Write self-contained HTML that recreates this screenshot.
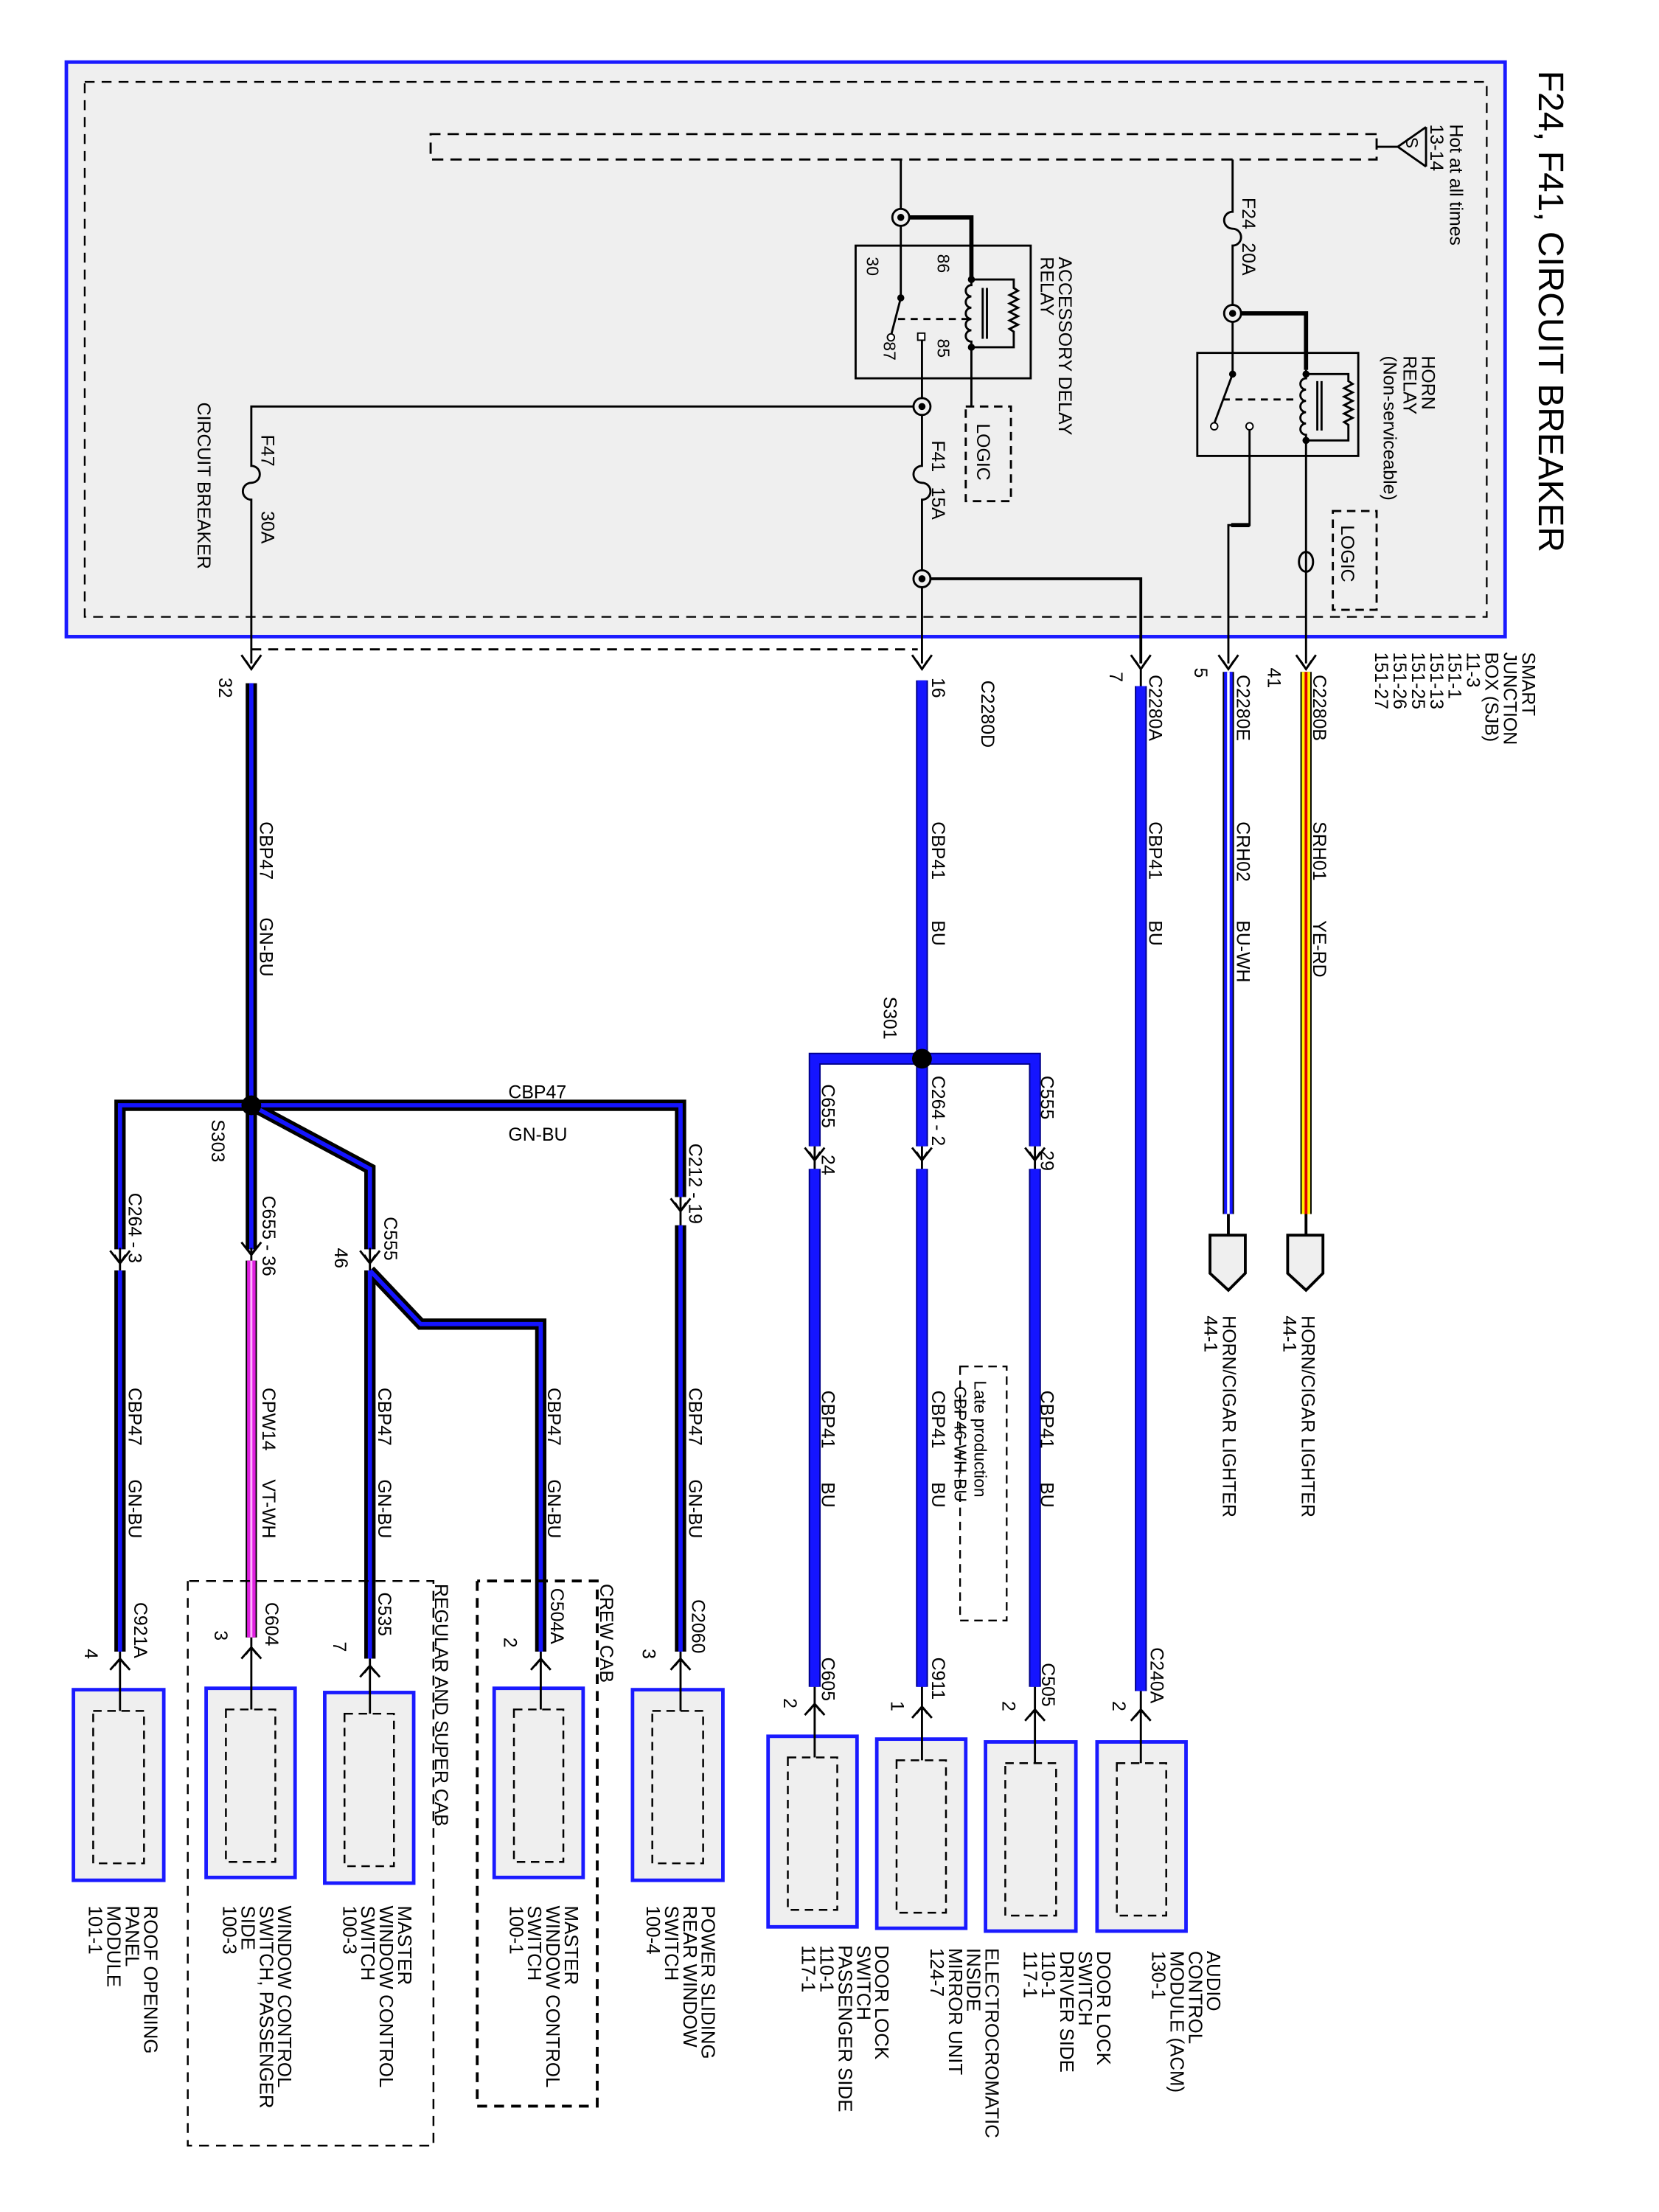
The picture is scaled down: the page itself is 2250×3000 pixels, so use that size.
<!DOCTYPE html>
<html><head><meta charset="utf-8"><style>
html,body{margin:0;padding:0;background:#fff}
svg{display:block}
text{font-family:"Liberation Sans",Arial,sans-serif;fill:#000}
</style></head><body>
<svg width="2250" height="3000" viewBox="0 0 1175 1567" preserveAspectRatio="none" xmlns="http://www.w3.org/2000/svg">
<rect x="0" y="0" width="1175" height="1567" fill="#fff"/>
<!-- top SJB box -->
<rect x="47" y="44" width="1019" height="407" fill="#efefef" stroke="#1a1aff" stroke-width="2.5"/>
<rect x="60" y="58" width="993" height="379" fill="none" stroke="#000" stroke-width="1.2" stroke-dasharray="7,5"/>
<!-- bus -->
<g fill="none" stroke="#000" stroke-width="1.5">
<path d="M975,95 H305 V113 H975 V95" stroke-dasharray="8,5"/>
<path d="M975,104 H990"/>
<path d="M990,104 L1010,90 M990,104 L1010,118 M1010,90 V118"/>
</g>
<text transform="translate(996,97) rotate(90)" font-size="12">S</text>
<text transform="translate(1027,88) rotate(90)" font-size="13">Hot at all times</text>
<text transform="translate(1013,88) rotate(90)" font-size="13">13-14</text>
<text transform="translate(1090,50) rotate(90)" font-size="25">F24, F41, CIRCUIT BREAKER</text>

<!-- F24 / horn relay -->
<g fill="none" stroke="#000" stroke-width="1.5">
<path d="M873,113 V150 a6,6 0 0 0 0,12 a6,6 0 0 1 0,12 V222"/>
<path d="M873,222 H925 V262" stroke-width="3"/>
<rect x="848" y="250" width="114" height="73"/>
<path d="M873,222 V265 L860,300"/>
<path d="M866,283 H920" stroke-dasharray="5,4"/>
<path d="M925,262 V268 a4,4 0 0 0 0,8 a4,4 0 0 0 0,8 a4,4 0 0 0 0,8 a4,4 0 0 0 0,8 a4,4 0 0 0 0,8 V312"/>
<path d="M933,270 V305 M936,270 V305"/>
<path d="M925,265 H955 V270 l3,2 l-6,3 l6,3 l-6,3 l6,3 l-6,3 l6,3 l-6,3 l6,3 l-6,3 l3,2 V312 H925"/>
<path d="M885,302 V372 H870 V470"/>
<path d="M872,372 H885" stroke-width="3"/>
<path d="M925,312 V470"/>
<ellipse cx="925" cy="398" rx="5" ry="7"/>
<rect x="944" y="362" width="31" height="70" stroke-dasharray="6,4"/>
</g>
<circle cx="873" cy="265" r="2.5"/>
<circle cx="860" cy="302" r="2.5" fill="#fff" stroke="#000"/>
<circle cx="885" cy="302" r="2.5" fill="#fff" stroke="#000"/>
<circle cx="925" cy="265" r="2.5"/><circle cx="925" cy="312" r="2.5"/>
<text transform="translate(880,140) rotate(90)" font-size="13">F24</text>
<text transform="translate(880,172) rotate(90)" font-size="13">20A</text>
<text transform="translate(1007,252) rotate(90)" font-size="13">HORN</text>
<text transform="translate(994,252) rotate(90)" font-size="13">RELAY</text>
<text transform="translate(980,252) rotate(90)" font-size="13">(Non-serviceable)</text>
<text transform="translate(950,372) rotate(90)" font-size="13">LOGIC</text>

<!-- accessory relay -->
<g fill="none" stroke="#000" stroke-width="1.5">
<path d="M638,113 V211 L631,238"/>
<path d="M638,154 H688 V196" stroke-width="3"/>
<rect x="606" y="174" width="124" height="94"/>
<path d="M636,226 H686" stroke-dasharray="5,4"/>
<path d="M688,196 V202 a4,4 0 0 0 0,8 a4,4 0 0 0 0,8 a4,4 0 0 0 0,8 a4,4 0 0 0 0,8 a4,4 0 0 0 0,8 V248"/>
<path d="M696,204 V240 M699,204 V240"/>
<path d="M688,198 H718 V204 l3,2 l-6,3 l6,3 l-6,3 l6,3 l-6,3 l6,3 l-6,3 l6,3 l-6,3 l3,2 V246 H688"/>
<path d="M688,248 V288"/>
<rect x="684" y="288" width="32" height="67" stroke-dasharray="6,4"/>
<path d="M653,241 V330 a6,6 0 0 0 0,12 a6,6 0 0 1 0,12 V470"/>
<path d="M653,288 H178 V330 a6,6 0 0 1 0,12 a6,6 0 0 0 0,12 V470"/>
<path d="M653,410 H808 V470" stroke-width="2"/>
<path d="M178,460 H650" stroke-dasharray="7,5"/>
</g>
<circle cx="638" cy="211" r="2.5"/>
<circle cx="631" cy="239" r="2.5" fill="#fff" stroke="#000"/>
<rect x="650" y="236" width="5" height="5" fill="#fff" stroke="#000"/>
<circle cx="688" cy="198" r="2.5"/><circle cx="688" cy="246" r="2.5"/>
<text transform="translate(664,180) rotate(90)" font-size="12">86</text>
<text transform="translate(664,240) rotate(90)" font-size="12">85</text>
<text transform="translate(614,182) rotate(90)" font-size="12">30</text>
<text transform="translate(626,242) rotate(90)" font-size="12">87</text>
<text transform="translate(750,182) rotate(90)" font-size="13">ACCESSORY DELAY</text>
<text transform="translate(737,182) rotate(90)" font-size="13">RELAY</text>
<text transform="translate(692,300) rotate(90)" font-size="13">LOGIC</text>
<text transform="translate(660,312) rotate(90)" font-size="13">F41</text>
<text transform="translate(660,345) rotate(90)" font-size="13">15A</text>
<text transform="translate(185,308) rotate(90)" font-size="13">F47</text>
<text transform="translate(185,362) rotate(90)" font-size="13">30A</text>
<text transform="translate(140,285) rotate(90)" font-size="13">CIRCUIT BREAKER</text>

<!-- junction circles -->
<g fill="#efefef" stroke="#000" stroke-width="1.5">
<circle cx="873" cy="222" r="6"/><circle cx="638" cy="154" r="6"/>
<circle cx="653" cy="288" r="6"/><circle cx="653" cy="410" r="6"/>
</g>
<g fill="#000"><circle cx="873" cy="222" r="2.5"/><circle cx="638" cy="154" r="2.5"/><circle cx="653" cy="288" r="2.5"/><circle cx="653" cy="410" r="2.5"/></g>

<!-- SJB labels -->
<g font-size="13">
<text transform="translate(1078,462) rotate(90)">SMART</text>
<text transform="translate(1065,462) rotate(90)">JUNCTION</text>
<text transform="translate(1052,462) rotate(90)">BOX (SJB)</text>
<text transform="translate(1039,462) rotate(90)">11-3</text>
<text transform="translate(1026,462) rotate(90)">151-1</text>
<text transform="translate(1013,462) rotate(90)">151-13</text>
<text transform="translate(1000,462) rotate(90)">151-25</text>
<text transform="translate(987,462) rotate(90)">151-26</text>
<text transform="translate(974,462) rotate(90)">151-27</text>
</g>

<!-- down arrows from SJB -->
<g fill="none" stroke="#000" stroke-width="1.5">
<path d="M171,464 L178,474 L185,464 M174,468 L178,474 L182,468"/>
<path d="M646,464 L653,474 L660,464 M649,468 L653,474 L657,468"/>
<path d="M801,464 L808,474 L815,464 M804,468 L808,474 L812,468 M808,474 V486"/>
<path d="M863,464 L870,474 L877,464 M866,468 L870,474 L874,468"/>
<path d="M918,464 L925,474 L932,464 M921,468 L925,474 L929,468"/>
</g>

<!-- horn wires -->
<path d="M925,476 V860" stroke="#000" stroke-width="8"/>
<path d="M925,476 V860" stroke="#ffee00" stroke-width="6"/>
<path d="M925,476 V860" stroke="#e00000" stroke-width="2"/>
<path d="M870,476 V860" stroke="#000" stroke-width="8"/>
<path d="M870,476 V860" stroke="#1515ff" stroke-width="6"/>
<path d="M870,476 V860" stroke="#fff" stroke-width="1.8"/>
<g fill="#efefef" stroke="#000" stroke-width="2">
<path d="M925,860 V875 M870,860 V875" fill="none"/>
<path d="M912,875 H937 V902 L925,914 L912,902 Z"/>
<path d="M857,875 H882 V902 L870,914 L857,902 Z"/>
</g>
<g font-size="13">
<text transform="translate(930,478) rotate(90)">C2280B</text>
<text transform="translate(898,473) rotate(90)">41</text>
<text transform="translate(930,582) rotate(90)">SRH01</text>
<text transform="translate(930,652) rotate(90)">YE-RD</text>
<text transform="translate(876,478) rotate(90)">C2280E</text>
<text transform="translate(846,473) rotate(90)">5</text>
<text transform="translate(876,582) rotate(90)">CRH02</text>
<text transform="translate(876,652) rotate(90)">BU-WH</text>
<text transform="translate(922,932) rotate(90)">HORN/CIGAR LIGHTER</text>
<text transform="translate(909,932) rotate(90)">44-1</text>
<text transform="translate(866,932) rotate(90)">HORN/CIGAR LIGHTER</text>
<text transform="translate(853,932) rotate(90)">44-1</text>
</g>

<!-- BU wires -->
<g fill="none" stroke-linejoin="miter">
<g stroke="#00008a" stroke-width="8.5">
<path d="M808,486 V1198"/>
<path d="M653,482 V812 M577,812 V750 H733 V812"/>
<path d="M577,828 V1195 M653,828 V1195 M733,828 V1195"/>
</g>
<g stroke="#1515ff" stroke-width="6.5">
<path d="M808,486 V1198"/>
<path d="M653,482 V812 M577,812 V750 H733 V812"/>
<path d="M577,828 V1195 M653,828 V1195 M733,828 V1195"/>
</g>
</g>
<circle cx="653" cy="750" r="7" fill="#000"/>
<g fill="none" stroke="#000" stroke-width="1.5">
<path d="M570,813 L577,822 L584,813 M573,816 L577,822 L581,816 M577,812 V828"/>
<path d="M646,813 L653,822 L660,813 M649,816 L653,822 L657,816 M653,812 V828"/>
<path d="M726,813 L733,822 L740,813 M729,816 L733,822 L737,816 M733,812 V828"/>
<rect x="680" y="968" width="33" height="180" stroke-dasharray="6,4" stroke-width="1.2"/>
</g>
<g font-size="13">
<text transform="translate(814,478) rotate(90)">C2280A</text>
<text transform="translate(786,476) rotate(90)">7</text>
<text transform="translate(814,582) rotate(90)">CBP41</text>
<text transform="translate(814,652) rotate(90)">BU</text>
<text transform="translate(660,480) rotate(90)">16</text>
<text transform="translate(695,482) rotate(90)">C2280D</text>
<text transform="translate(660,582) rotate(90)">CBP41</text>
<text transform="translate(660,652) rotate(90)">BU</text>
<text transform="translate(626,706) rotate(90)">S301</text>
<text transform="translate(737,762) rotate(90)">C555</text>
<text transform="translate(737,815) rotate(90)">29</text>
<text transform="translate(660,762) rotate(90)">C264  -  2</text>
<text transform="translate(582,768) rotate(90)">C655</text>
<text transform="translate(582,818) rotate(90)">24</text>
<text transform="translate(737,985) rotate(90)">CBP41</text>
<text transform="translate(737,1050) rotate(90)">BU</text>
<text transform="translate(660,985) rotate(90)">CBP41</text>
<text transform="translate(660,1050) rotate(90)">BU</text>
<text transform="translate(582,985) rotate(90)">CBP41</text>
<text transform="translate(582,1050) rotate(90)">BU</text>
<text transform="translate(690,978) rotate(90)" font-size="12">Late production</text>
<text transform="translate(676,982) rotate(90)" font-size="12">CBP46     WH-BU</text>
<text transform="translate(738,1178) rotate(90)">C505</text>
<text transform="translate(710,1205) rotate(90)">2</text>
<text transform="translate(660,1174) rotate(90)">C911</text>
<text transform="translate(631,1205) rotate(90)">1</text>
<text transform="translate(582,1174) rotate(90)">C605</text>
<text transform="translate(555,1203) rotate(90)">2</text>
<text transform="translate(815,1167) rotate(90)">C240A</text>
<text transform="translate(788,1205) rotate(90)">2</text>
</g>

<!-- GN-BU wires -->
<g fill="none" stroke-linejoin="miter">
<g stroke="#000" stroke-width="8">
<path d="M178,484 V885"/>
<path d="M85,885 V783 H482 V848"/>
<path d="M178,783 L262,828 V885"/>
<path d="M85,900 V1170 M262,900 V1175 M262,900 L298,938 H383 V1170 M482,868 V1170"/>
<path d="M178,893 V1160"/>
</g>
<g stroke="#1515ff" stroke-width="3">
<path d="M178,484 V885"/>
<path d="M85,885 V783 H482 V848"/>
<path d="M178,783 L262,828 V885"/>
<path d="M85,900 V1170 M262,900 V1175 M262,900 L298,938 H383 V1170 M482,868 V1170"/>
</g>
<path d="M178,893 V1160" stroke="#e020e0" stroke-width="6"/>
<path d="M178,893 V1160" stroke="#ffb0ff" stroke-width="1.5"/>
</g>
<circle cx="178" cy="783" r="7" fill="#000"/>
<g fill="none" stroke="#000" stroke-width="1.5">
<path d="M78,886 L85,895 L92,886 M81,889 L85,895 L89,889 M85,884 V900"/>
<path d="M171,880 L178,889 L185,880 M174,883 L178,889 L182,883 M178,884 V893"/>
<path d="M255,886 L262,895 L269,886 M258,889 L262,895 L266,889 M262,884 V900"/>
<path d="M475,849 L482,858 L489,849 M478,852 L482,858 L486,852 M482,848 V868"/>
</g>
<g font-size="13">
<text transform="translate(155,480) rotate(90)">32</text>
<text transform="translate(184,582) rotate(90)">CBP47</text>
<text transform="translate(184,650) rotate(90)">GN-BU</text>
<text x="360" y="778">CBP47</text>
<text x="360" y="808">GN-BU</text>
<text transform="translate(150,793) rotate(90)">S303</text>
<text transform="translate(91,845) rotate(90)">C264  -  3</text>
<text transform="translate(186,847) rotate(90)">C655  -  36</text>
<text transform="translate(272,862) rotate(90)">C555</text>
<text transform="translate(237,884) rotate(90)">46</text>
<text transform="translate(488,810) rotate(90)">C212  -  19</text>
<text transform="translate(91,983) rotate(90)">CBP47</text>
<text transform="translate(91,1048) rotate(90)">GN-BU</text>
<text transform="translate(186,983) rotate(90)">CPW14</text>
<text transform="translate(186,1048) rotate(90)">VT-WH</text>
<text transform="translate(268,983) rotate(90)">CBP47</text>
<text transform="translate(268,1048) rotate(90)">GN-BU</text>
<text transform="translate(388,983) rotate(90)">CBP47</text>
<text transform="translate(388,1048) rotate(90)">GN-BU</text>
<text transform="translate(488,983) rotate(90)">CBP47</text>
<text transform="translate(488,1048) rotate(90)">GN-BU</text>
<text transform="translate(95,1135) rotate(90)">C921A</text>
<text transform="translate(60,1168) rotate(90)">4</text>
<text transform="translate(188,1135) rotate(90)">C604</text>
<text transform="translate(152,1155) rotate(90)">3</text>
<text transform="translate(268,1128) rotate(90)">C535</text>
<text transform="translate(236,1163) rotate(90)">7</text>
<text transform="translate(390,1125) rotate(90)">C504A</text>
<text transform="translate(357,1160) rotate(90)">2</text>
<text transform="translate(490,1133) rotate(90)">C2060</text>
<text transform="translate(455,1168) rotate(90)">3</text>
<text transform="translate(308,1122) rotate(90)">REGULAR AND SUPER CAB</text>
<text transform="translate(425,1122) rotate(90)">CREW CAB</text>
</g>
<!-- enclosures -->
<g fill="none" stroke="#000" stroke-width="1.3" stroke-dasharray="7,5">
<path d="M133,1120 V1520 H307 V1120 H133"/>
<path d="M338,1120 V1492 H423 V1120 H338" stroke-width="2"/>
</g>

<!-- component boxes -->
<g>
<g fill="#efefef" stroke="#1a1aff" stroke-width="2.5">
<rect x="52" y="1197" width="64" height="135"/>
<rect x="146" y="1196" width="63" height="134"/>
<rect x="230" y="1199" width="63" height="135"/>
<rect x="350" y="1196" width="63" height="134"/>
<rect x="448" y="1197" width="64" height="135"/>
<rect x="544" y="1230" width="63" height="135"/>
<rect x="621" y="1232" width="63" height="134"/>
<rect x="698" y="1234" width="64" height="134"/>
<rect x="777" y="1234" width="63" height="134"/>
</g>
<g fill="none" stroke="#000" stroke-width="1.3" stroke-dasharray="6,4">
<rect x="66" y="1212" width="36" height="108"/>
<rect x="160" y="1211" width="35" height="108"/>
<rect x="244" y="1214" width="35" height="108"/>
<rect x="364" y="1211" width="35" height="108"/>
<rect x="462" y="1212" width="36" height="108"/>
<rect x="558" y="1245" width="35" height="108"/>
<rect x="635" y="1247" width="35" height="108"/>
<rect x="712" y="1249" width="36" height="108"/>
<rect x="791" y="1249" width="35" height="108"/>
</g>
<g fill="none" stroke="#000" stroke-width="1.5">
<path d="M85,1170 V1212 M78,1183 L85,1175 L92,1183 M81,1180 L85,1175 L89,1180"/>
<path d="M178,1160 V1211 M171,1175 L178,1167 L185,1175 M174,1172 L178,1167 L182,1172"/>
<path d="M262,1175 V1214 M255,1188 L262,1180 L269,1188 M258,1185 L262,1180 L266,1185"/>
<path d="M383,1170 V1211 M376,1183 L383,1175 L390,1183 M379,1180 L383,1175 L387,1180"/>
<path d="M482,1170 V1212 M475,1183 L482,1175 L489,1183 M478,1180 L482,1175 L486,1180"/>
<path d="M577,1195 V1245 M570,1215 L577,1207 L584,1215 M573,1212 L577,1207 L581,1212"/>
<path d="M653,1195 V1247 M646,1217 L653,1209 L660,1217 M649,1214 L653,1209 L657,1214"/>
<path d="M733,1195 V1249 M726,1219 L733,1211 L740,1219 M729,1216 L733,1211 L737,1216"/>
<path d="M808,1198 V1249 M801,1219 L808,1211 L815,1219 M804,1216 L808,1211 L812,1216"/>
</g>
</g>

<!-- component labels -->
<g font-size="13.5">
<text transform="translate(855,1382) rotate(90)">AUDIO</text>
<text transform="translate(842,1382) rotate(90)">CONTROL</text>
<text transform="translate(829,1382) rotate(90)">MODULE (ACM)</text>
<text transform="translate(816,1382) rotate(90)">130-1</text>
<text transform="translate(777,1382) rotate(90)">DOOR LOCK</text>
<text transform="translate(764,1382) rotate(90)">SWITCH</text>
<text transform="translate(751,1382) rotate(90)">DRIVER SIDE</text>
<text transform="translate(738,1382) rotate(90)">110-1</text>
<text transform="translate(725,1382) rotate(90)">117-1</text>
<text transform="translate(698,1380) rotate(90)">ELECTROCROMATIC</text>
<text transform="translate(685,1380) rotate(90)">INSIDE</text>
<text transform="translate(672,1380) rotate(90)">MIRROR UNIT</text>
<text transform="translate(659,1380) rotate(90)">124-7</text>
<text transform="translate(620,1378) rotate(90)">DOOR LOCK</text>
<text transform="translate(607,1378) rotate(90)">SWITCH</text>
<text transform="translate(594,1378) rotate(90)">PASSENGER SIDE</text>
<text transform="translate(581,1378) rotate(90)">110-1</text>
<text transform="translate(568,1378) rotate(90)">117-1</text>
<text transform="translate(497,1350) rotate(90)">POWER SLIDING</text>
<text transform="translate(484,1350) rotate(90)">REAR WINDOW</text>
<text transform="translate(471,1350) rotate(90)">SWITCH</text>
<text transform="translate(458,1350) rotate(90)">100-4</text>
<text transform="translate(400,1350) rotate(90)">MASTER</text>
<text transform="translate(387,1350) rotate(90)">WINDOW CONTROL</text>
<text transform="translate(374,1350) rotate(90)">SWITCH</text>
<text transform="translate(361,1350) rotate(90)">100-1</text>
<text transform="translate(282,1350) rotate(90)">MASTER</text>
<text transform="translate(269,1350) rotate(90)">WINDOW CONTROL</text>
<text transform="translate(256,1350) rotate(90)">SWITCH</text>
<text transform="translate(243,1350) rotate(90)">100-3</text>
<text transform="translate(197,1350) rotate(90)">WINDOW CONTROL</text>
<text transform="translate(184,1350) rotate(90)">SWITCH, PASSENGER</text>
<text transform="translate(171,1350) rotate(90)">SIDE</text>
<text transform="translate(158,1350) rotate(90)">100-3</text>
<text transform="translate(102,1350) rotate(90)">ROOF OPENING</text>
<text transform="translate(89,1350) rotate(90)">PANEL</text>
<text transform="translate(76,1350) rotate(90)">MODULE</text>
<text transform="translate(63,1350) rotate(90)">101-1</text>
</g>
</svg>
</body></html>
